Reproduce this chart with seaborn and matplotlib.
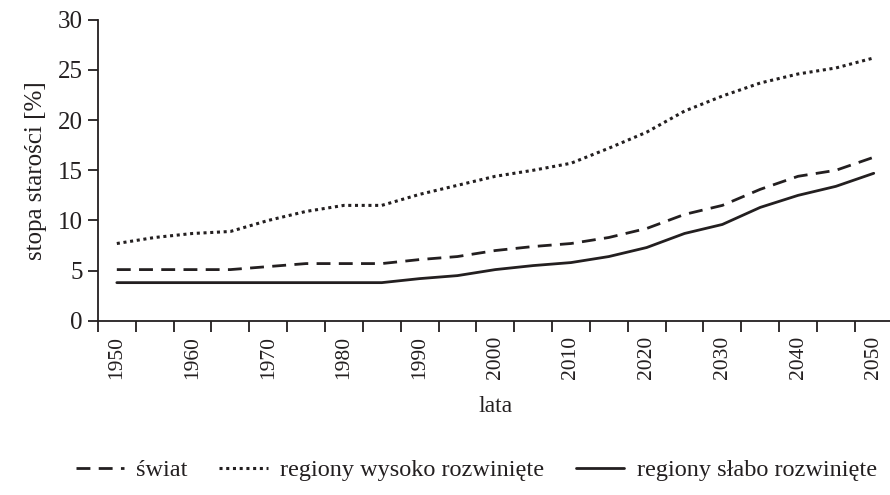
import numpy as np
import pandas as pd
import matplotlib
matplotlib.use('Agg')
import matplotlib.pyplot as plt
import seaborn as sns

# Years every 5 years, 1950-2050
years = [1950, 1955, 1960, 1965, 1970, 1975, 1980, 1985, 1990, 1995, 2000,
         2005, 2010, 2015, 2020, 2025, 2030, 2035, 2040, 2045, 2050]

# Old-age rate [%]
swiat = [5.1, 5.1, 5.1, 5.1, 5.4, 5.7, 5.7, 5.7, 6.1, 6.4, 7.0,
         7.4, 7.7, 8.3, 9.2, 10.6, 11.5, 13.1, 14.4, 15.0, 16.3]
wysoko = [7.7, 8.3, 8.7, 8.9, 10.0, 10.9, 11.5, 11.5, 12.6, 13.5, 14.4,
          15.0, 15.7, 17.2, 18.8, 20.9, 22.4, 23.7, 24.6, 25.2, 26.2]
slabo = [3.8, 3.8, 3.8, 3.8, 3.8, 3.8, 3.8, 3.8, 4.2, 4.5, 5.1,
         5.5, 5.8, 6.4, 7.3, 8.7, 9.6, 11.3, 12.5, 13.4, 14.7]

labels = ['świat', 'regiony wysoko rozwinięte', 'regiony słabo rozwinięte']

df = pd.DataFrame({'idx': np.arange(len(years)), 'year': years,
                   labels[0]: swiat, labels[1]: wysoko, labels[2]: slabo})

sns.set_theme(style='ticks')
plt.rcParams['font.family'] = ['Liberation Serif', 'DejaVu Serif']

fig = plt.figure(figsize=(8.9, 4.95), dpi=100)
ax = fig.add_axes([0.11, 0.352, 0.893, 0.608])

col = '#231f20'
sns.lineplot(data=df, x='idx', y=labels[0], ax=ax, color=col, lw=2.0,
             label=labels[0])
ax.lines[-1].set_dashes([5, 3])
sns.lineplot(data=df, x='idx', y=labels[1], ax=ax, color=col, lw=2.2,
             label=labels[1])
ax.lines[-1].set_dashes([1, 1.2])
sns.lineplot(data=df, x='idx', y=labels[2], ax=ax, color=col, lw=2.0,
             label=labels[2])

ax.set_xlim(-0.5, len(years) - 0.5)
ax.set_ylim(0, 30)
ax.set_yticks(range(0, 31, 5))
ax.tick_params(axis='y', labelsize=18, length=7, width=1.3, color=col,
               labelcolor=col, pad=4)

# ticks between categories, labels every 10 years
ax.set_xticks(np.arange(-0.5, len(years), 1.0))
ax.set_xticklabels([])
ax.set_xticks(np.arange(0, len(years), 2), minor=True)
ax.set_xticklabels([str(y) for y in years[::2]], minor=True, rotation=90)
ax.tick_params(axis='x', which='major', length=8, width=1.3, color=col)
ax.tick_params(axis='x', which='minor', length=0, labelsize=15.5,
               labelcolor=col, pad=11)

for s in ['left', 'bottom']:
    ax.spines[s].set_color(col)
    ax.spines[s].set_linewidth(1.3)
sns.despine(ax=ax)

ax.set_xlabel('lata', fontsize=17, color=col, labelpad=12)
ax.set_ylabel('stopa starości [%]', fontsize=18, color=col, labelpad=8)

ax.legend(loc='center', bbox_to_anchor=(0.535, 0.05), bbox_transform=fig.transFigure,
          ncol=3, frameon=False, fontsize=17.5, handlelength=2.0,
          columnspacing=1.3, handletextpad=0.5, labelcolor=col)

fig.savefig('out.png', dpi=100)
